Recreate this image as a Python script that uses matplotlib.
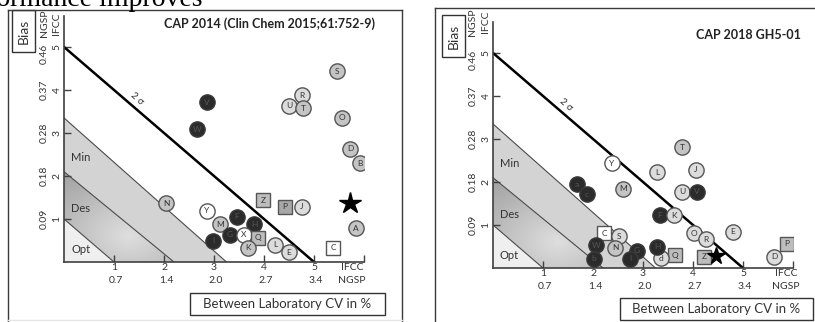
import numpy as np
import matplotlib.pyplot as plt
from matplotlib.patches import Polygon, Rectangle
from matplotlib.lines import Line2D

W, H = 815, 322

# CAP 2014 survey (left panel), x = IFCC CV units, y = IFCC bias units
cap14_lab = ['S', 'R', 'U', 'T', 'V', 'W', 'O', 'D', 'B', 'N', 'Z', 'P', 'J',
             'A', 'C', 'Y', 'F', 'M', 'H', 'G', 'X', 'Q', 'I', 'K', 'L', 'E']
cap14_x = [5.46, 4.76, 4.50, 4.78, 2.86, 2.66, 5.56, 5.72, 5.92, 2.04, 3.98, 4.42, 4.76,
           5.84, 5.38, 2.86, 3.46, 3.12, 3.80, 3.32, 3.60, 3.88, 2.98, 3.68, 4.22, 4.50]
cap14_y = [4.44, 3.88, 3.63, 3.58, 3.72, 3.09, 3.35, 2.63, 2.30, 1.37, 1.44, 1.28, 1.28,
           0.79, 0.33, 1.19, 1.05, 0.88, 0.88, 0.63, 0.63, 0.56, 0.49, 0.33, 0.40, 0.23]
cap14_kind = ['g', 'l', 'l', 'g', 'k', 'k', 'g', 'g', 'g', 'g', 'sg', 'sd', 'l',
              'g', 'sw', 'w', 'k', 'g', 'k', 'k', 'w', 'sg', 'k', 'g', 'l', 'l']
cap14_star = (5.72, 1.37)

# CAP 2018 GH5-01 (right panel)
cap18_lab = ['T', 'Y', 'L', 'J', 'M', 'U', 'V', 'F', 'K', 'O', 'R', 'E', 'P', 'D',
             'Z', 'Q', 'd', 'H', 'C', 'S', 'N', 'W', 'b', 'G', 'I', 'a', 'c']
cap18_x = [3.78, 2.38, 3.28, 4.06, 2.60, 3.78, 4.08, 3.34, 3.62, 4.02, 4.26, 4.80, 5.88, 5.62,
           4.22, 3.64, 3.36, 3.28, 2.22, 2.52, 2.44, 2.06, 2.02, 2.88, 2.74, 1.68, 1.88]
cap18_y = [2.81, 2.44, 2.23, 2.28, 1.84, 1.77, 1.77, 1.23, 1.23, 0.81, 0.67, 0.84, 0.56, 0.26,
           0.26, 0.30, 0.23, 0.49, 0.81, 0.74, 0.47, 0.53, 0.21, 0.40, 0.21, 1.95, 1.72]
cap18_kind = ['g', 'w', 'l', 'l', 'g', 'l', 'k', 'k', 'l', 'l', 'l', 'l', 'sg', 'l',
              'sg', 'sg', 'l', 'k', 'sw', 'l', 'g', 'k', 'k', 'k', 'k', 'k', 'k']
cap18_star = (4.46, 0.28)

ifcc_ticks = [1, 2, 3, 4, 5]
ngsp_x = ['0.7', '1.4', '2.0', '2.7', '3.4']
ngsp_y = ['0.09', '0.18', '0.28', '0.37', '0.46']

# zone limits (y-intercept, x-intercept)
opt_lim = (1.0, 1.0)
des_lim = (2.1, 2.2)
min_lim = (3.35, 3.25)
sigma_lim = (5.0, 5.0)

fills = {'k': '#2b2b2b', 'g': '#c4c4c4', 'l': '#dcdcdc', 'w': 'white',
         'sg': '#bdbdbd', 'sd': '#a8a8a8', 'sw': 'white'}

plt.rcParams['font.family'] = ['Lato', 'DejaVu Sans']
fig = plt.figure(figsize=(W / 100, H / 100), dpi=100)


def fx(x):
    return x / W


def fy(y):
    return 1 - y / H


def box(x0, y0, x1, y1, text, rot=0, size=9):
    fig.add_artist(Rectangle((fx(x0), fy(y1)), fx(x1 - x0), (y1 - y0) / H,
                             transform=fig.transFigure, fill=False,
                             edgecolor='#333333', lw=1))
    fig.text(fx((x0 + x1) / 2), fy((y0 + y1) / 2), text, rotation=rot,
             ha='center', va='center', fontsize=size, color='#333333')


def panel(ox, oy, lab, xs, ys, kinds, star, star_ms, hdr_y, lab_x):
    ax = fig.add_axes([fx(ox), fy(oy), 300 / W, 246 / H])
    ax.patch.set_alpha(0)

    a, b = opt_lim
    d1, d2 = des_lim
    m1, m2 = min_lim
    ax.add_patch(Polygon([(0, 0), (b, 0), (0, a)], closed=True,
                         facecolor='#efefef', edgecolor='none'))
    ax.add_patch(Polygon([(0, d1), (d2, 0), (m2, 0), (0, m1)], closed=True,
                         facecolor='#d3d3d3', edgecolor='none'))
    des = Polygon([(0, a), (b, 0), (d2, 0), (0, d1)], closed=True,
                  facecolor='none', edgecolor='none')
    ax.add_patch(des)
    gx, gy = np.meshgrid(np.linspace(0, d2, 200), np.linspace(0, d1, 200))
    r = np.hypot(gx - 1.3, (gy - 0.6) * 1.2)
    im = ax.imshow(np.clip(0.87 - 0.11 * r, 0, 1), extent=[0, d2, 0, d1],
                   origin='lower', cmap='gray', vmin=0, vmax=1, aspect='auto')
    im.set_clip_path(des)

    for yi, xi in [opt_lim, des_lim, min_lim]:
        ax.plot([0, xi], [yi, 0], color='#4a4a4a', lw=0.8)
    ax.plot([0, sigma_lim[1]], [sigma_lim[0], 0], color='black', lw=1.8)
    ax.text(1.45, 3.8, '2 σ', rotation=-41, ha='center', va='center',
            fontsize=7, color='#333333')

    for t, yy in [('Min', 2.44), ('Des', 1.25), ('Opt', 0.28)]:
        ax.text(0.14, yy, t, ha='left', va='center', fontsize=8, color='#333333')

    for x, y, t, k in zip(xs, ys, lab, kinds):
        mk = 's' if k.startswith('s') else 'o'
        ec = '#3a3a3a' if k == 'k' else '#555555'
        ax.plot(x, y, marker=mk, ms=11 if mk == 'o' else 10.5, mfc=fills[k],
                mec=ec, mew=1, zorder=3)
        ax.text(x, y, t, ha='center', va='center', fontsize=6, zorder=4,
                color='#555555' if k == 'k' else '#333333')
    ax.plot(*star, marker='*', ms=star_ms, color='black', zorder=3)

    ax.set_xlim(0, 6)
    ax.set_ylim(0, 5.72)
    ax.set_xticks(ifcc_ticks + [6])
    ax.set_yticks(ifcc_ticks)
    ax.set_xticklabels([])
    ax.set_yticklabels([])
    ax.tick_params(direction='in', length=5, color='#404040', width=1)
    for s in ['top', 'right']:
        ax.spines[s].set_visible(False)
    for s in ['left', 'bottom']:
        ax.spines[s].set_color('#404040')
        ax.spines[s].set_linewidth(1.2)

    kw = dict(ha='center', va='center', fontsize=7.5, color='#333333', clip_on=False)
    for v, n in zip(ifcc_ticks, ngsp_y):
        ax.text(-0.14, v, str(v), rotation=90, **kw)
        ax.text(-0.40, v - (0.15 if v == 5 else 0), n, rotation=90, **kw)
    ax.text(-0.14, hdr_y, 'IFCC', rotation=90, **kw)
    ax.text(-0.40, hdr_y, 'NGSP', rotation=90, **kw)
    for v, n in zip(ifcc_ticks, ngsp_x):
        ax.text(v, -0.12, str(v), **kw)
        ax.text(v + 0.04, -0.42, n, **kw)
    ax.text(lab_x, -0.12, 'IFCC', **kw)
    ax.text(lab_x, -0.42, 'NGSP', **kw)
    return ax


panel(64, 262, cap14_lab, cap14_x, cap14_y, cap14_kind, cap14_star, 16, 5.55, 5.76)
panel(493, 268, cap18_lab, cap18_x, cap18_y, cap18_kind, cap18_star, 13, 5.72, 5.86)

# panel frames
frame = dict(transform=fig.transFigure, color='#3a3a3a', lw=1)
fig.add_artist(Line2D([fx(8), fx(8)], [fy(10), fy(322)], **frame))
fig.add_artist(Line2D([fx(8), fx(402)], [fy(10), fy(10)], **frame))
fig.add_artist(Line2D([fx(402), fx(402)], [fy(10), fy(322)], **frame))
fig.add_artist(Line2D([fx(8), fx(402)], [fy(320), fy(320)], transform=fig.transFigure,
                      color='#e6e6e6', lw=1))
fig.add_artist(Line2D([fx(435), fx(435)], [fy(8), fy(322)], **frame))
fig.add_artist(Line2D([fx(435), fx(815)], [fy(8), fy(8)], **frame))

box(12, 10, 35, 52, 'Bias', rot=90, size=10)
box(442, 15, 465, 57, 'Bias', rot=90, size=10)
box(190, 293, 385, 315, 'Between Laboratory CV in %', size=9.5)
box(620, 298, 813, 320, 'Between Laboratory CV in %', size=9.5)

fig.text(fx(270), fy(24), 'CAP 2014 (Clin Chem 2015;61:752-9)', ha='center',
         va='center', fontsize=9, fontweight='bold', color='#222222')
fig.text(fx(748), fy(35), 'CAP 2018 GH5-01', ha='center', va='center',
         fontsize=9, fontweight='bold', color='#222222')
# slide heading, cut off by the top edge as in the source
fig.text(fx(202), fy(6), 'Performance improves', ha='right', va='baseline',
         fontsize=20, family='Liberation Serif', color='black')

fig.savefig('out.png', dpi=100)
